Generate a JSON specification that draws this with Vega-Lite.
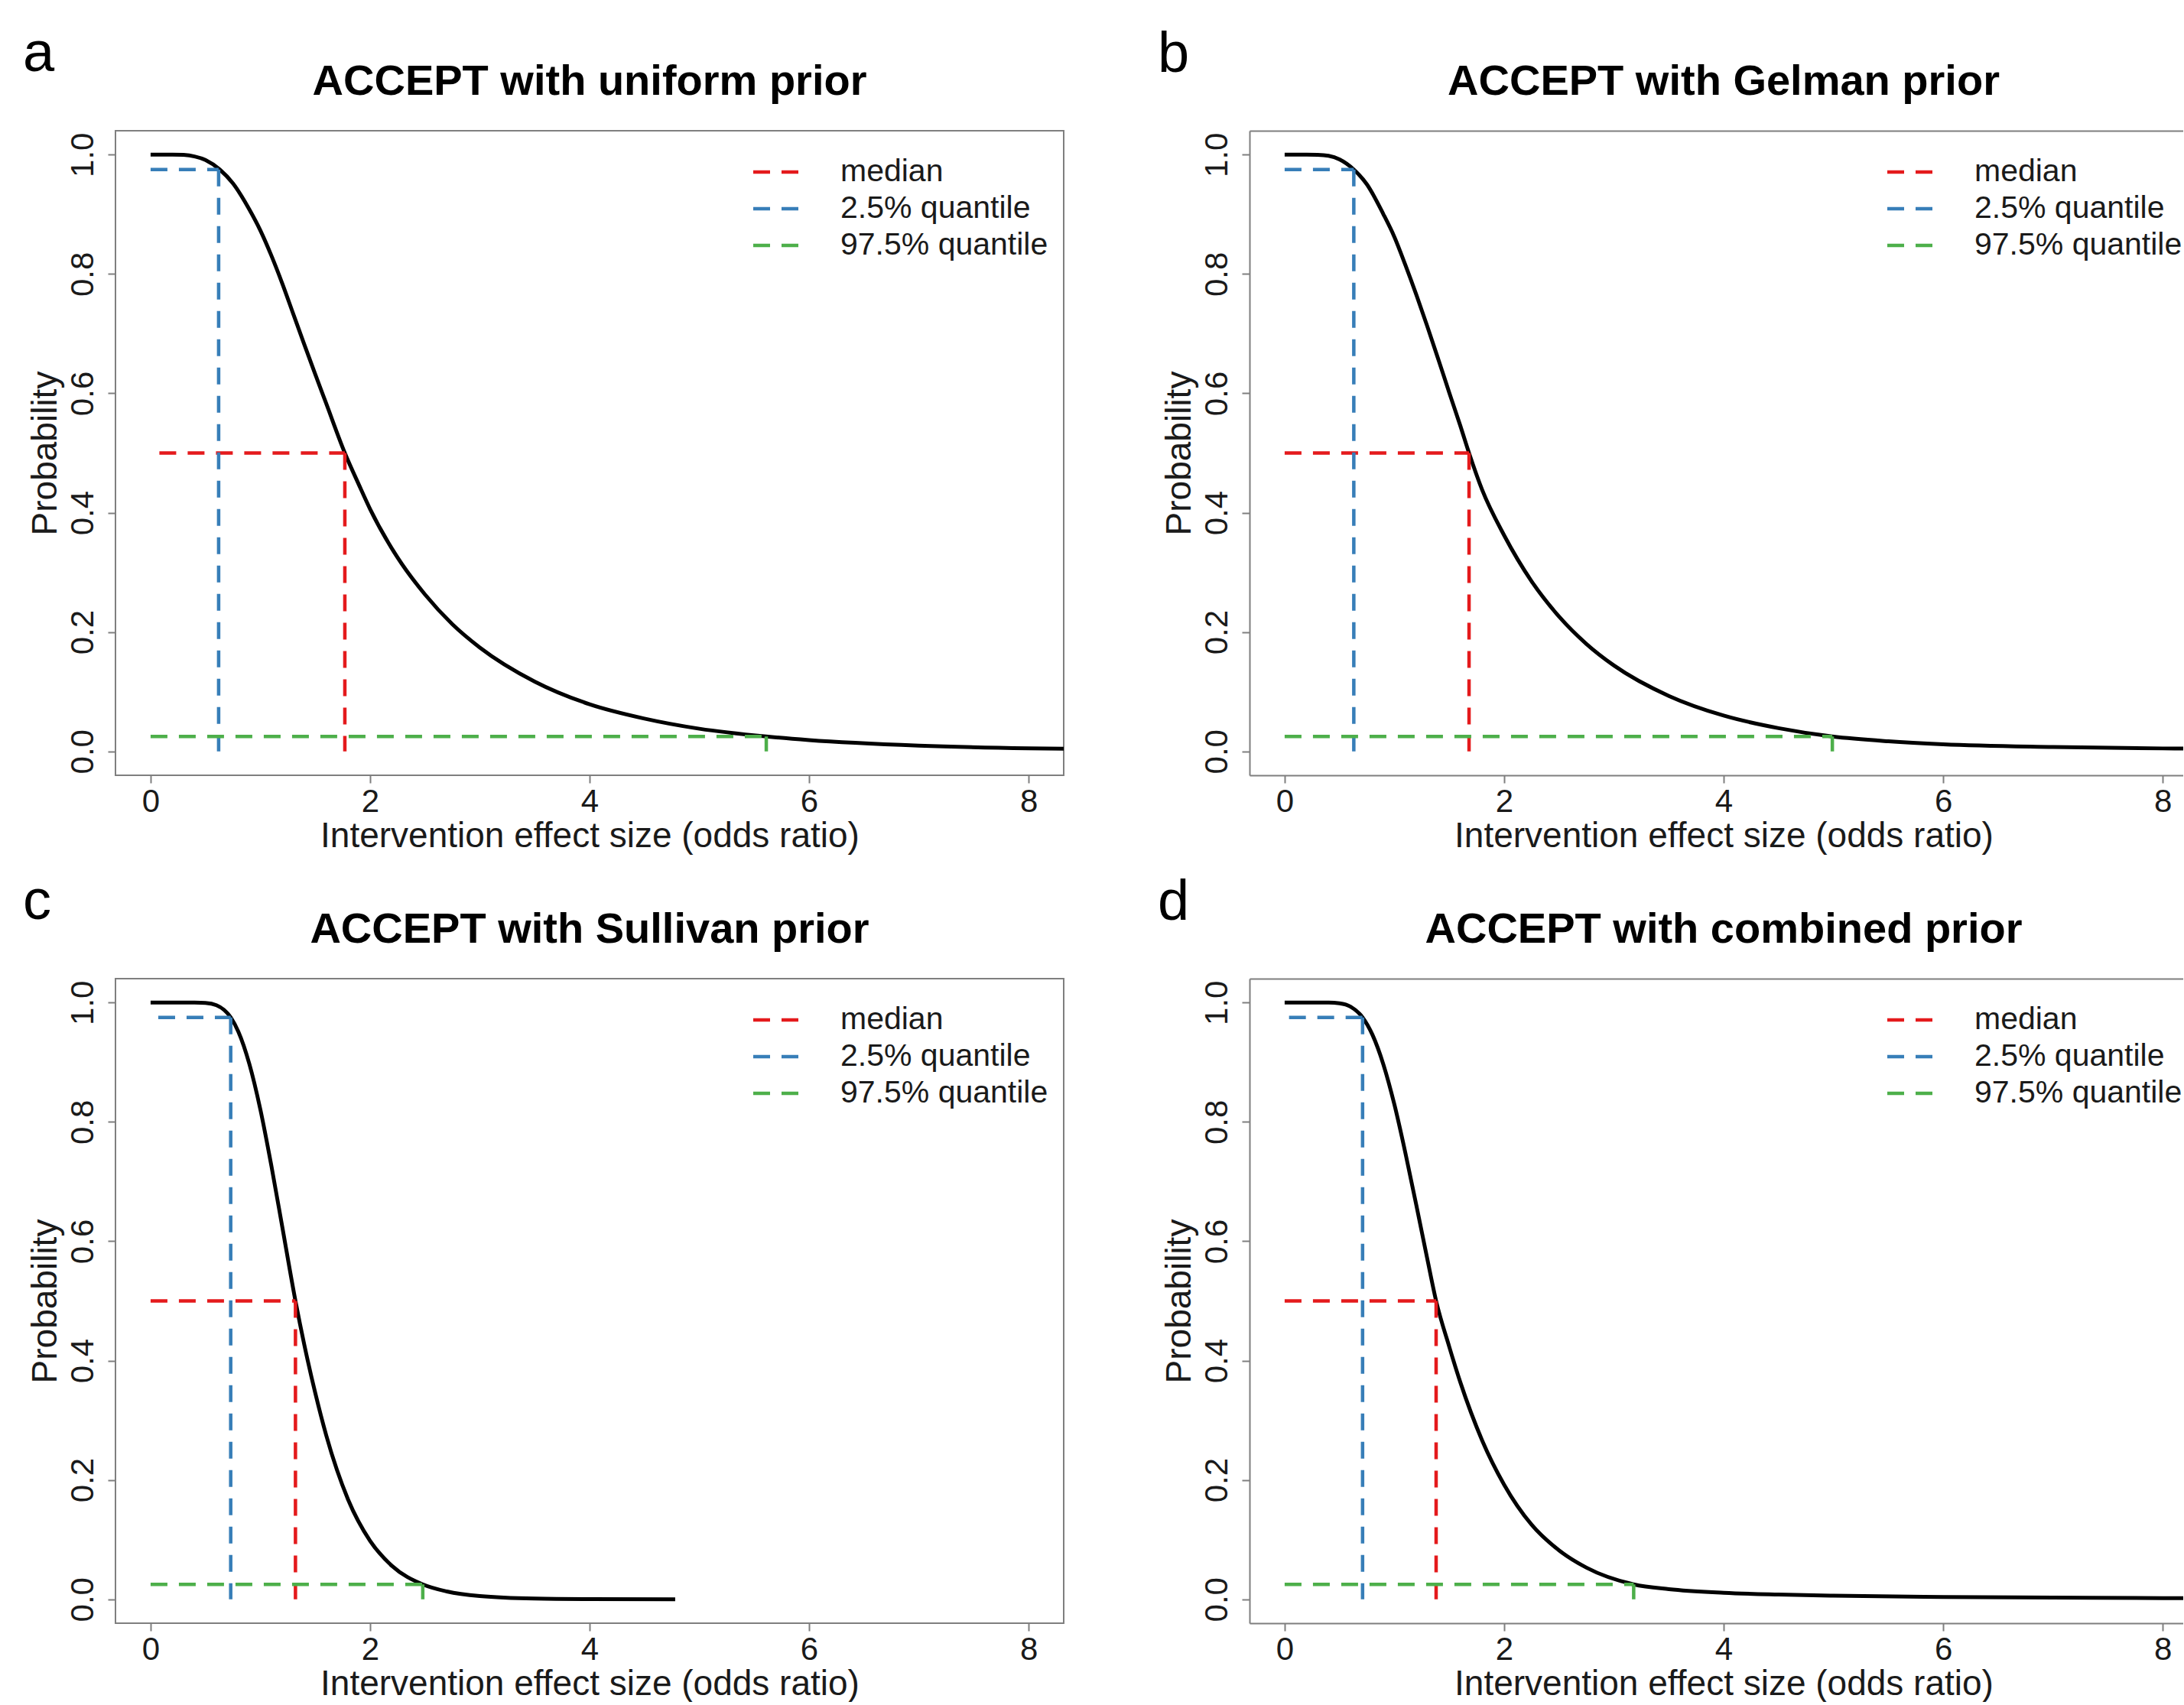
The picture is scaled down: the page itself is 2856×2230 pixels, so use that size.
{
  "$schema": "https://vega.github.io/schema/vega-lite/v6.json",
  "background": "white",
  "padding": {"left": 30, "top": 34, "right": 0, "bottom": 0},
  "autosize": {"type": "pad"},
  "config": {
    "font": "Liberation Sans",
    "view": {"stroke": "#7f7f7f", "strokeWidth": 2},
    "axis": {"grid": false, "domain": false, "domainColor": "#7f7f7f", "domainWidth": 2, "tickColor": "#7f7f7f", "tickWidth": 2, "tickSize": 10, "labelFont": "Liberation Sans", "labelFontSize": 42, "labelColor": "#1a1a1a", "labelFlush": false, "labelOverlap": false, "labelBound": false, "titleFont": "Liberation Sans", "titleFontSize": 46, "titleFontWeight": "normal", "titleColor": "#1a1a1a"},
    "axisX": {"labelPadding": 4, "labelBaseline": "top", "titleBaseline": "alphabetic", "titleX": 620, "titleY": 93, "titleAlign": "center"},
    "axisY": {"labelAngle": 270, "labelAlign": "center", "labelBaseline": "alphabetic", "labelPadding": 20, "titleAngle": 270, "titleBaseline": "alphabetic", "titleAlign": "center", "titleX": -78, "titleY": 421.5},
    "legend": {"symbolType": "M-2,0H2", "symbolSize": 961, "symbolStrokeWidth": 4.5, "symbolDash": [22, 15], "labelFontSize": 41, "labelFont": "Liberation Sans", "labelColor": "#1a1a1a", "labelOffset": 62.5, "rowPadding": 6, "padding": 0, "labelLimit": 0},
    "title": {"font": "Liberation Sans", "color": "#000000"}
  },
  "datasets": {
    "curve": [
      {"p": "a", "x": 0, "y": 1}, {"p": "a", "x": 0.2, "y": 1}, {"p": "a", "x": 0.3, "y": 0.9995}, {"p": "a", "x": 0.4, "y": 0.997}, {"p": "a", "x": 0.5, "y": 0.991}, {"p": "a", "x": 0.63, "y": 0.975}, {"p": "a", "x": 0.75, "y": 0.952}, {"p": "a", "x": 0.9, "y": 0.908}, {"p": "a", "x": 1.0, "y": 0.873}, {"p": "a", "x": 1.1, "y": 0.831}, {"p": "a", "x": 1.2, "y": 0.784}, {"p": "a", "x": 1.3, "y": 0.733}, {"p": "a", "x": 1.4, "y": 0.682}, {"p": "a", "x": 1.5, "y": 0.632}, {"p": "a", "x": 1.6, "y": 0.583}, {"p": "a", "x": 1.77, "y": 0.5}, {"p": "a", "x": 1.9, "y": 0.446}, {"p": "a", "x": 2.0, "y": 0.406}, {"p": "a", "x": 2.25, "y": 0.325}, {"p": "a", "x": 2.5, "y": 0.263}, {"p": "a", "x": 2.75, "y": 0.213}, {"p": "a", "x": 3.0, "y": 0.174}, {"p": "a", "x": 3.5, "y": 0.117}, {"p": "a", "x": 4.0, "y": 0.079}, {"p": "a", "x": 4.5, "y": 0.055}, {"p": "a", "x": 5.0, "y": 0.038}, {"p": "a", "x": 5.61, "y": 0.025}, {"p": "a", "x": 6.0, "y": 0.019}, {"p": "a", "x": 7.0, "y": 0.0098}, {"p": "a", "x": 8.0, "y": 0.0052}, {"p": "a", "x": 8.4, "y": 0.0042},
      {"p": "b", "x": 0, "y": 1}, {"p": "b", "x": 0.2, "y": 1}, {"p": "b", "x": 0.3, "y": 0.9997}, {"p": "b", "x": 0.4, "y": 0.998}, {"p": "b", "x": 0.5, "y": 0.992}, {"p": "b", "x": 0.63, "y": 0.975}, {"p": "b", "x": 0.75, "y": 0.95}, {"p": "b", "x": 0.9, "y": 0.9}, {"p": "b", "x": 1.0, "y": 0.862}, {"p": "b", "x": 1.1, "y": 0.815}, {"p": "b", "x": 1.2, "y": 0.765}, {"p": "b", "x": 1.3, "y": 0.712}, {"p": "b", "x": 1.4, "y": 0.657}, {"p": "b", "x": 1.5, "y": 0.601}, {"p": "b", "x": 1.6, "y": 0.546}, {"p": "b", "x": 1.68, "y": 0.5}, {"p": "b", "x": 1.8, "y": 0.438}, {"p": "b", "x": 2.0, "y": 0.362}, {"p": "b", "x": 2.25, "y": 0.285}, {"p": "b", "x": 2.5, "y": 0.226}, {"p": "b", "x": 2.75, "y": 0.18}, {"p": "b", "x": 3.0, "y": 0.144}, {"p": "b", "x": 3.5, "y": 0.093}, {"p": "b", "x": 4.0, "y": 0.06}, {"p": "b", "x": 4.5, "y": 0.039}, {"p": "b", "x": 4.99, "y": 0.025}, {"p": "b", "x": 5.5, "y": 0.017}, {"p": "b", "x": 6.0, "y": 0.012}, {"p": "b", "x": 7.0, "y": 0.0075}, {"p": "b", "x": 8.0, "y": 0.005}, {"p": "b", "x": 8.4, "y": 0.0045},
      {"p": "c", "x": 0, "y": 1}, {"p": "c", "x": 0.3, "y": 1}, {"p": "c", "x": 0.4, "y": 0.9999}, {"p": "c", "x": 0.5, "y": 0.9993}, {"p": "c", "x": 0.6, "y": 0.9955}, {"p": "c", "x": 0.73, "y": 0.975}, {"p": "c", "x": 0.8, "y": 0.951}, {"p": "c", "x": 0.9, "y": 0.897}, {"p": "c", "x": 1.0, "y": 0.821}, {"p": "c", "x": 1.1, "y": 0.727}, {"p": "c", "x": 1.2, "y": 0.624}, {"p": "c", "x": 1.32, "y": 0.5}, {"p": "c", "x": 1.4, "y": 0.427}, {"p": "c", "x": 1.5, "y": 0.346}, {"p": "c", "x": 1.6, "y": 0.275}, {"p": "c", "x": 1.8, "y": 0.167}, {"p": "c", "x": 2.0, "y": 0.098}, {"p": "c", "x": 2.2, "y": 0.056}, {"p": "c", "x": 2.48, "y": 0.025}, {"p": "c", "x": 2.7, "y": 0.0131}, {"p": "c", "x": 3.0, "y": 0.0054}, {"p": "c", "x": 3.5, "y": 0.0012}, {"p": "c", "x": 4.0, "y": 0.0003}, {"p": "c", "x": 4.78, "y": 0},
      {"p": "d", "x": 0, "y": 1}, {"p": "d", "x": 0.3, "y": 1}, {"p": "d", "x": 0.4, "y": 0.9999}, {"p": "d", "x": 0.5, "y": 0.9986}, {"p": "d", "x": 0.6, "y": 0.993}, {"p": "d", "x": 0.71, "y": 0.975}, {"p": "d", "x": 0.8, "y": 0.946}, {"p": "d", "x": 0.9, "y": 0.896}, {"p": "d", "x": 1.0, "y": 0.829}, {"p": "d", "x": 1.1, "y": 0.748}, {"p": "d", "x": 1.2, "y": 0.66}, {"p": "d", "x": 1.3, "y": 0.57}, {"p": "d", "x": 1.38, "y": 0.5}, {"p": "d", "x": 1.5, "y": 0.423}, {"p": "d", "x": 1.6, "y": 0.364}, {"p": "d", "x": 1.8, "y": 0.266}, {"p": "d", "x": 2.0, "y": 0.192}, {"p": "d", "x": 2.25, "y": 0.125}, {"p": "d", "x": 2.5, "y": 0.082}, {"p": "d", "x": 2.75, "y": 0.053}, {"p": "d", "x": 3.18, "y": 0.025}, {"p": "d", "x": 3.5, "y": 0.017}, {"p": "d", "x": 4.0, "y": 0.011}, {"p": "d", "x": 4.5, "y": 0.008}, {"p": "d", "x": 5.0, "y": 0.006}, {"p": "d", "x": 6.0, "y": 0.004}, {"p": "d", "x": 7.0, "y": 0.003}, {"p": "d", "x": 8.0, "y": 0.002}, {"p": "d", "x": 8.4, "y": 0.002}
    ],
    "seg": [
      {"p": "a", "stat": "median", "x": 0.08, "x2": 1.77, "y": 0.5, "y2": 0.5},
      {"p": "a", "stat": "median", "x": 1.77, "x2": 1.77, "y": 0.5, "y2": 0},
      {"p": "a", "stat": "2.5% quantile", "x": 0, "x2": 0.62, "y": 0.975, "y2": 0.975},
      {"p": "a", "stat": "2.5% quantile", "x": 0.62, "x2": 0.62, "y": 0.975, "y2": 0},
      {"p": "a", "stat": "97.5% quantile", "x": 0, "x2": 5.61, "y": 0.025, "y2": 0.025},
      {"p": "a", "stat": "97.5% quantile", "x": 5.61, "x2": 5.61, "y": 0.025, "y2": 0},
      {"p": "b", "stat": "median", "x": 0, "x2": 1.68, "y": 0.5, "y2": 0.5},
      {"p": "b", "stat": "median", "x": 1.68, "x2": 1.68, "y": 0.5, "y2": 0},
      {"p": "b", "stat": "2.5% quantile", "x": 0, "x2": 0.63, "y": 0.975, "y2": 0.975},
      {"p": "b", "stat": "2.5% quantile", "x": 0.63, "x2": 0.63, "y": 0.975, "y2": 0},
      {"p": "b", "stat": "97.5% quantile", "x": 0, "x2": 4.99, "y": 0.025, "y2": 0.025},
      {"p": "b", "stat": "97.5% quantile", "x": 4.99, "x2": 4.99, "y": 0.025, "y2": 0},
      {"p": "c", "stat": "median", "x": 0, "x2": 1.32, "y": 0.5, "y2": 0.5},
      {"p": "c", "stat": "median", "x": 1.32, "x2": 1.32, "y": 0.5, "y2": 0},
      {"p": "c", "stat": "2.5% quantile", "x": 0.07, "x2": 0.73, "y": 0.975, "y2": 0.975},
      {"p": "c", "stat": "2.5% quantile", "x": 0.73, "x2": 0.73, "y": 0.975, "y2": 0},
      {"p": "c", "stat": "97.5% quantile", "x": 0, "x2": 2.48, "y": 0.025, "y2": 0.025},
      {"p": "c", "stat": "97.5% quantile", "x": 2.48, "x2": 2.48, "y": 0.025, "y2": 0},
      {"p": "d", "stat": "median", "x": 0, "x2": 1.38, "y": 0.5, "y2": 0.5},
      {"p": "d", "stat": "median", "x": 1.38, "x2": 1.38, "y": 0.5, "y2": 0},
      {"p": "d", "stat": "2.5% quantile", "x": 0.04, "x2": 0.71, "y": 0.975, "y2": 0.975},
      {"p": "d", "stat": "2.5% quantile", "x": 0.71, "x2": 0.71, "y": 0.975, "y2": 0},
      {"p": "d", "stat": "97.5% quantile", "x": 0, "x2": 3.18, "y": 0.025, "y2": 0.025},
      {"p": "d", "stat": "97.5% quantile", "x": 3.18, "x2": 3.18, "y": 0.025, "y2": 0}
    ]
  },
  "resolve": {"scale": {"color": "independent"}, "legend": {"color": "independent"}},
  "spacing": 26,
  "vconcat": [
    {
      "spacing": 122,
      "resolve": {"scale": {"color": "independent"}, "legend": {"color": "independent"}},
      "hconcat": [
        {
          "title": {"text": "a", "fontSize": 74, "fontWeight": "normal", "anchor": "start", "frame": "bounds", "baseline": "alphabetic", "offset": -89, "dx": -5},
          "resolve": {"scale": {"color": "independent"}, "legend": {"color": "independent"}},
          "vconcat": [
            {
              "title": {"text": "ACCEPT with uniform prior", "fontSize": 56, "fontWeight": "bold", "anchor": "middle", "frame": "group", "baseline": "alphabetic", "offset": -9},
              "width": 1240,
              "height": 843,
              "layer": [
                {
                  "data": {"name": "curve"},
                  "transform": [{"filter": "datum.p == 'a'"}],
                  "mark": {"type": "line", "color": "black", "strokeWidth": 5, "interpolate": "monotone", "clip": true},
                  "encoding": {
                    "x": {"field": "x", "type": "quantitative", "scale": {"domain": [-0.32, 8.32], "nice": false, "zero": false}, "axis": {"values": [0, 2, 4, 6, 8], "format": "d", "title": "Intervention effect size (odds ratio)"}},
                    "y": {"field": "y", "type": "quantitative", "scale": {"domain": [-0.04, 1.04], "nice": false, "zero": false}, "axis": {"values": [0, 0.2, 0.4, 0.6, 0.8, 1], "format": ".1f", "title": "Probability"}}
                  }
                },
                {
                  "data": {"name": "seg"},
                  "transform": [{"filter": "datum.p == 'a'"}],
                  "mark": {"type": "rule", "strokeDash": [22, 15], "strokeWidth": 4.5},
                  "encoding": {
                    "x": {"field": "x", "type": "quantitative"},
                    "x2": {"field": "x2"},
                    "y": {"field": "y", "type": "quantitative"},
                    "y2": {"field": "y2"},
                    "color": {"field": "stat", "type": "nominal", "scale": {"domain": ["median", "2.5% quantile", "97.5% quantile"], "range": ["#E41A1C", "#377EB8", "#4DAF4A"]}, "legend": {"orient": "none", "legendX": 844.5, "legendY": 33.5, "title": null, "rowPadding": 6}}
                  }
                }
              ]
            }
          ]
        },
        {
          "title": {"text": "b", "fontSize": 74, "fontWeight": "normal", "anchor": "start", "frame": "bounds", "baseline": "alphabetic", "offset": -89, "dx": -5},
          "resolve": {"scale": {"color": "independent"}, "legend": {"color": "independent"}},
          "vconcat": [
            {
              "title": {"text": "ACCEPT with Gelman prior", "fontSize": 56, "fontWeight": "bold", "anchor": "middle", "frame": "group", "baseline": "alphabetic", "offset": -9, "dx": 9.5},
              "width": 1221,
              "height": 843,
              "view": {"stroke": null},
              "resolve": {"axis": {"x": "independent"}},
              "layer": [
                {
                  "data": {"name": "curve"},
                  "transform": [{"filter": "datum.p == 'b'"}],
                  "mark": {"type": "line", "color": "black", "strokeWidth": 5, "interpolate": "monotone", "clip": true},
                  "encoding": {
                    "x": {"field": "x", "type": "quantitative", "scale": {"domain": [-0.32, 8.187], "nice": false, "zero": false}, "axis": {"orient": "top", "labels": false, "ticks": false, "domain": true, "title": null}},
                    "y": {"field": "y", "type": "quantitative", "scale": {"domain": [-0.04, 1.04], "nice": false, "zero": false}, "axis": {"values": [0, 0.2, 0.4, 0.6, 0.8, 1], "format": ".1f", "title": "Probability", "domain": true}}
                  }
                },
                {
                  "data": {"name": "seg"},
                  "transform": [{"filter": "datum.p == 'b'"}],
                  "mark": {"type": "rule", "strokeDash": [22, 15], "strokeWidth": 4.5},
                  "encoding": {
                    "x": {"field": "x", "type": "quantitative", "axis": {"orient": "bottom", "values": [0, 2, 4, 6, 8], "format": "d", "title": "Intervention effect size (odds ratio)", "domain": true}},
                    "x2": {"field": "x2"},
                    "y": {"field": "y", "type": "quantitative", "axis": {"values": [0, 0.2, 0.4, 0.6, 0.8, 1], "format": ".1f", "title": "Probability", "domain": true}},
                    "y2": {"field": "y2"},
                    "color": {"field": "stat", "type": "nominal", "scale": {"domain": ["median", "2.5% quantile", "97.5% quantile"], "range": ["#E41A1C", "#377EB8", "#4DAF4A"]}, "legend": {"orient": "none", "legendX": 844.5, "legendY": 33.5, "title": null, "rowPadding": 6}}
                  }
                }
              ]
            }
          ]
        }
      ]
    },
    {
      "spacing": 122,
      "resolve": {"scale": {"color": "independent"}, "legend": {"color": "independent"}},
      "hconcat": [
        {
          "title": {"text": "c", "fontSize": 74, "fontWeight": "normal", "anchor": "start", "frame": "bounds", "baseline": "alphabetic", "offset": -89, "dx": -5},
          "resolve": {"scale": {"color": "independent"}, "legend": {"color": "independent"}},
          "vconcat": [
            {
              "title": {"text": "ACCEPT with Sullivan prior", "fontSize": 56, "fontWeight": "bold", "anchor": "middle", "frame": "group", "baseline": "alphabetic", "offset": -9},
              "width": 1240,
              "height": 843,
              "layer": [
                {
                  "data": {"name": "curve"},
                  "transform": [{"filter": "datum.p == 'c'"}],
                  "mark": {"type": "line", "color": "black", "strokeWidth": 5, "interpolate": "monotone", "clip": true},
                  "encoding": {
                    "x": {"field": "x", "type": "quantitative", "scale": {"domain": [-0.32, 8.32], "nice": false, "zero": false}, "axis": {"values": [0, 2, 4, 6, 8], "format": "d", "title": "Intervention effect size (odds ratio)"}},
                    "y": {"field": "y", "type": "quantitative", "scale": {"domain": [-0.04, 1.04], "nice": false, "zero": false}, "axis": {"values": [0, 0.2, 0.4, 0.6, 0.8, 1], "format": ".1f", "title": "Probability"}}
                  }
                },
                {
                  "data": {"name": "seg"},
                  "transform": [{"filter": "datum.p == 'c'"}],
                  "mark": {"type": "rule", "strokeDash": [22, 15], "strokeWidth": 4.5},
                  "encoding": {
                    "x": {"field": "x", "type": "quantitative"},
                    "x2": {"field": "x2"},
                    "y": {"field": "y", "type": "quantitative"},
                    "y2": {"field": "y2"},
                    "color": {"field": "stat", "type": "nominal", "scale": {"domain": ["median", "2.5% quantile", "97.5% quantile"], "range": ["#E41A1C", "#377EB8", "#4DAF4A"]}, "legend": {"orient": "none", "legendX": 844.5, "legendY": 33.5, "title": null, "rowPadding": 6}}
                  }
                }
              ]
            }
          ]
        },
        {
          "title": {"text": "d", "fontSize": 74, "fontWeight": "normal", "anchor": "start", "frame": "bounds", "baseline": "alphabetic", "offset": -89, "dx": -5},
          "resolve": {"scale": {"color": "independent"}, "legend": {"color": "independent"}},
          "vconcat": [
            {
              "title": {"text": "ACCEPT with combined prior", "fontSize": 56, "fontWeight": "bold", "anchor": "middle", "frame": "group", "baseline": "alphabetic", "offset": -9, "dx": 9.5},
              "width": 1221,
              "height": 843,
              "view": {"stroke": null},
              "resolve": {"axis": {"x": "independent"}},
              "layer": [
                {
                  "data": {"name": "curve"},
                  "transform": [{"filter": "datum.p == 'd'"}],
                  "mark": {"type": "line", "color": "black", "strokeWidth": 5, "interpolate": "monotone", "clip": true},
                  "encoding": {
                    "x": {"field": "x", "type": "quantitative", "scale": {"domain": [-0.32, 8.187], "nice": false, "zero": false}, "axis": {"orient": "top", "labels": false, "ticks": false, "domain": true, "title": null}},
                    "y": {"field": "y", "type": "quantitative", "scale": {"domain": [-0.04, 1.04], "nice": false, "zero": false}, "axis": {"values": [0, 0.2, 0.4, 0.6, 0.8, 1], "format": ".1f", "title": "Probability", "domain": true}}
                  }
                },
                {
                  "data": {"name": "seg"},
                  "transform": [{"filter": "datum.p == 'd'"}],
                  "mark": {"type": "rule", "strokeDash": [22, 15], "strokeWidth": 4.5},
                  "encoding": {
                    "x": {"field": "x", "type": "quantitative", "axis": {"orient": "bottom", "values": [0, 2, 4, 6, 8], "format": "d", "title": "Intervention effect size (odds ratio)", "domain": true}},
                    "x2": {"field": "x2"},
                    "y": {"field": "y", "type": "quantitative", "axis": {"values": [0, 0.2, 0.4, 0.6, 0.8, 1], "format": ".1f", "title": "Probability", "domain": true}},
                    "y2": {"field": "y2"},
                    "color": {"field": "stat", "type": "nominal", "scale": {"domain": ["median", "2.5% quantile", "97.5% quantile"], "range": ["#E41A1C", "#377EB8", "#4DAF4A"]}, "legend": {"orient": "none", "legendX": 844.5, "legendY": 33.5, "title": null, "rowPadding": 6}}
                  }
                }
              ]
            }
          ]
        }
      ]
    }
  ]
}
